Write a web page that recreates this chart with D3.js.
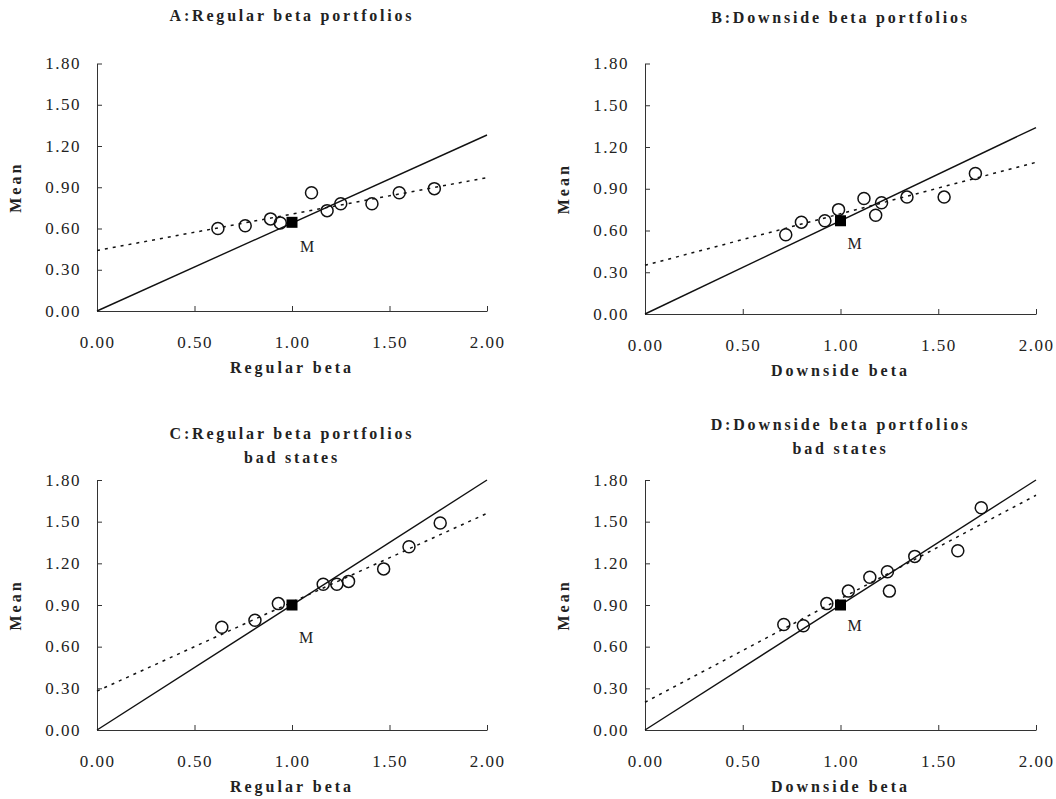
<!DOCTYPE html>
<html>
<head>
<meta charset="utf-8">
<script src="https://cdn.jsdelivr.net/npm/d3@7"></script>
<style>
  body { margin: 0; background: #fff; }
  text { font-family: "Liberation Serif", "Times New Roman", serif; }
</style>
</head>
<body>
<div id="chart"></div>
<script>
// tick values shared by all four panels
const xTicks = [0, 0.5, 1, 1.5, 2];
const yTicks = [0, 0.3, 0.6, 0.9, 1.2, 1.5, 1.8];

// A: regular beta portfolios
const betaA = [0.62, 0.76, 0.89, 0.94, 1.10, 1.18, 1.25, 1.41, 1.55, 1.73];
const meanA = [0.60, 0.62, 0.67, 0.64, 0.86, 0.73, 0.78, 0.78, 0.86, 0.89];
const marketA = [1.0, 0.645];
const solidA = [[0, 0], [2, 1.28]];
const dottedA = [[0, 0.44], [2, 0.97]];

// B: downside beta portfolios
const betaB = [0.72, 0.80, 0.92, 0.99, 1.12, 1.18, 1.21, 1.34, 1.53, 1.69];
const meanB = [0.57, 0.66, 0.67, 0.75, 0.83, 0.71, 0.80, 0.84, 0.84, 1.01];
const marketB = [1.0, 0.67];
const solidB = [[0, 0], [2, 1.34]];
const dottedB = [[0, 0.35], [2, 1.09]];

// C: regular beta portfolios, bad states
const betaC = [0.64, 0.81, 0.93, 1.16, 1.23, 1.29, 1.47, 1.60, 1.76];
const meanC = [0.74, 0.79, 0.91, 1.05, 1.05, 1.07, 1.16, 1.32, 1.49];
const marketC = [1.0, 0.90];
const solidC = [[0, 0], [2, 1.80]];
const dottedC = [[0, 0.28], [2, 1.56]];

// D: downside beta portfolios, bad states
const betaD = [0.71, 0.81, 0.93, 1.04, 1.15, 1.24, 1.25, 1.38, 1.60, 1.72];
const meanD = [0.76, 0.75, 0.91, 1.00, 1.10, 1.14, 1.00, 1.25, 1.29, 1.60];
const marketD = [1.0, 0.90];
const solidD = [[0, 0], [2, 1.80]];
const dottedD = [[0, 0.20], [2, 1.69]];

const panels = [
  { title: ["A:Regular beta portfolios"], titleY: [21], xLabel: "Regular beta",
    beta: betaA, mean: meanA, market: marketA, solid: solidA, dotted: dottedA,
    left: 97, right: 487, top: 63.5, bottom: 311, mdx: 15, mdy: 30 },
  { title: ["B:Downside beta portfolios"], titleY: [23], xLabel: "Downside beta",
    beta: betaB, mean: meanB, market: marketB, solid: solidB, dotted: dottedB,
    left: 645, right: 1036, top: 63.5, bottom: 314, mdx: 14, mdy: 28 },
  { title: ["C:Regular beta portfolios", "bad states"], titleY: [439, 463], xLabel: "Regular beta",
    beta: betaC, mean: meanC, market: marketC, solid: solidC, dotted: dottedC,
    left: 97, right: 487, top: 480, bottom: 730, mdx: 14, mdy: 38 },
  { title: ["D:Downside beta portfolios", "bad states"], titleY: [430, 454], xLabel: "Downside beta",
    beta: betaD, mean: meanD, market: marketD, solid: solidD, dotted: dottedD,
    left: 645, right: 1036, top: 480, bottom: 730, mdx: 14, mdy: 26 }
];

const svg = d3.select("#chart")
  .append("svg")
  .attr("width", 1056)
  .attr("height", 799);

const fmt = d3.format(".2f");
const ink = "#222";

panels.forEach(p => {
  const x = d3.scaleLinear().domain([0, 2]).range([p.left, p.right]);
  const y = d3.scaleLinear().domain([0, 1.8]).range([p.bottom, p.top]);
  const g = svg.append("g");

  // x axis, ticks point up into the plot
  const gx = g.append("g")
    .attr("transform", `translate(0,${p.bottom})`)
    .call(d3.axisBottom(x).tickValues(xTicks).tickFormat(fmt)
      .tickSizeInner(-5).tickSizeOuter(0));
  gx.selectAll("text")
    .attr("y", 37).attr("dy", null)
    .attr("font-size", 17).attr("letter-spacing", "1.5px")
    .attr("fill", ink);

  // y axis, ticks point right into the plot
  const gy = g.append("g")
    .attr("transform", `translate(${p.left},0)`)
    .call(d3.axisLeft(y).tickValues(yTicks).tickFormat(fmt)
      .tickSizeInner(-5).tickSizeOuter(0));
  gy.selectAll("text")
    .attr("x", -16).attr("dy", "0.3em")
    .attr("font-size", 17).attr("letter-spacing", "1.5px")
    .attr("fill", ink);

  g.selectAll(".domain, .tick line").attr("stroke", "#333").attr("stroke-width", 1);

  const line = d3.line().x(d => x(d[0])).y(d => y(d[1]));

  g.append("path")
    .attr("d", line(p.solid))
    .attr("fill", "none")
    .attr("stroke", "#111")
    .attr("stroke-width", 1.4);

  g.append("path")
    .attr("d", line(p.dotted))
    .attr("fill", "none")
    .attr("stroke", "#111")
    .attr("stroke-width", 1.5)
    .attr("stroke-dasharray", "3,5");

  g.selectAll("circle")
    .data(p.beta)
    .enter()
    .append("circle")
    .attr("cx", d => x(d))
    .attr("cy", (d, i) => y(p.mean[i]))
    .attr("r", 6)
    .attr("fill", "none")
    .attr("stroke", "#111")
    .attr("stroke-width", 1.5);

  // market portfolio
  g.append("rect")
    .attr("x", x(p.market[0]) - 5.5)
    .attr("y", y(p.market[1]) - 5.5)
    .attr("width", 11)
    .attr("height", 11)
    .attr("fill", "#000");

  g.append("text")
    .attr("x", x(p.market[0]) + p.mdx)
    .attr("y", y(p.market[1]) + p.mdy)
    .attr("text-anchor", "middle")
    .attr("font-size", 16)
    .attr("fill", ink)
    .text("M");

  const cx = (p.left + p.right) / 2;

  p.title.forEach((t, i) => {
    g.append("text")
      .attr("x", cx)
      .attr("y", p.titleY[i])
      .attr("text-anchor", "middle")
      .attr("font-size", 16)
      .attr("font-weight", "bold")
      .attr("letter-spacing", "2.8px")
      .attr("fill", ink)
      .text(t);
  });

  g.append("text")
    .attr("x", cx)
    .attr("y", p.bottom + 62)
    .attr("text-anchor", "middle")
    .attr("font-size", 16)
    .attr("font-weight", "bold")
    .attr("letter-spacing", "3px")
    .attr("fill", ink)
    .text(p.xLabel);

  g.append("text")
    .attr("transform", `translate(${p.left - 76},${(p.top + p.bottom) / 2}) rotate(-90)`)
    .attr("text-anchor", "middle")
    .attr("font-size", 16)
    .attr("font-weight", "bold")
    .attr("letter-spacing", "3px")
    .attr("fill", ink)
    .text("Mean");
});
</script>
</body>
</html>
